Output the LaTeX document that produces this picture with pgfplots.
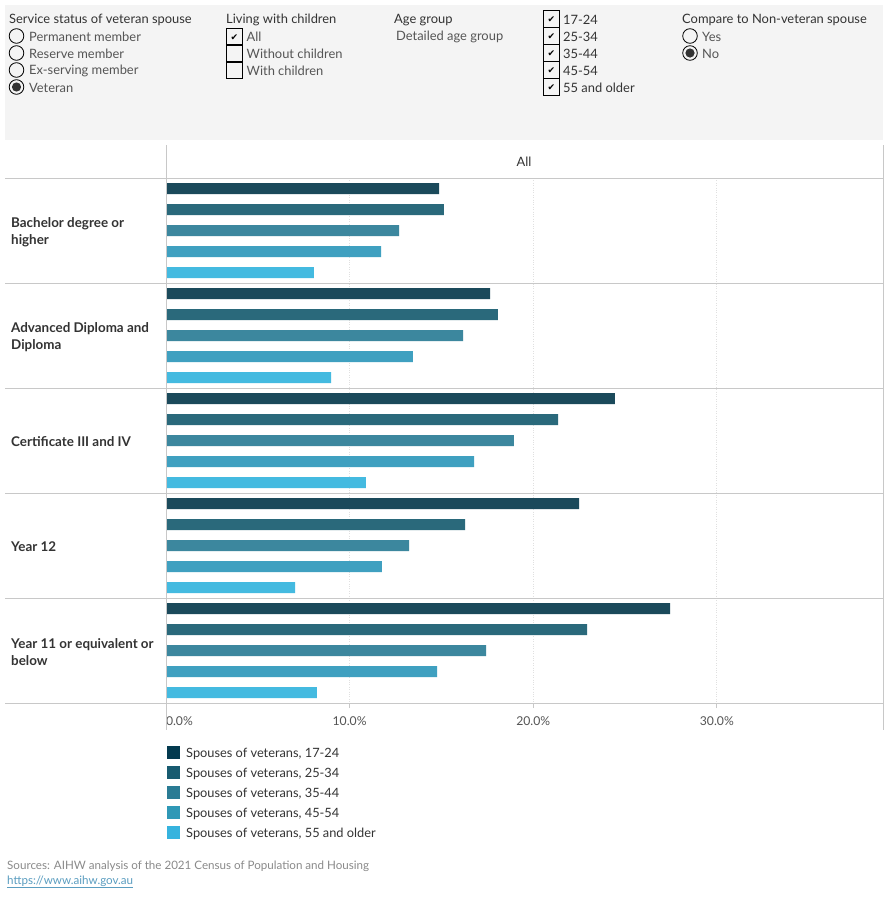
\documentclass[border=0pt]{standalone}
\usepackage{pgfplots}
\pgfplotsset{compat=1.18}
\usepackage{fontspec}
\setmainfont{Lato}
\newfontfamily\dejavu{DejaVu Sans}
\definecolor{c1}{HTML}{1B4A5B}
\definecolor{c2}{HTML}{2A697B}
\definecolor{c3}{HTML}{3C879E}
\definecolor{c4}{HTML}{3FA0C0}
\definecolor{c5}{HTML}{44BAE0}
\definecolor{l1}{HTML}{033A4F}
\definecolor{l2}{HTML}{185B70}
\definecolor{l3}{HTML}{2A7B94}
\definecolor{l4}{HTML}{2F98B6}
\definecolor{l5}{HTML}{36B3DE}
\definecolor{panel}{HTML}{F4F4F4}
\definecolor{tt}{HTML}{333333}
\definecolor{opt}{HTML}{555555}
\definecolor{sep}{HTML}{C8C8C8}
\definecolor{src}{HTML}{8A8A8A}
\definecolor{url}{HTML}{5A9DC0}
\newcommand{\fs}{\fontsize{12.9}{15}\selectfont}
\newcommand{\fst}{\fontsize{12.2}{14}\selectfont}
\begin{document}
\begin{tikzpicture}[x=1pt,y=1pt]
\useasboundingbox (0,0) rectangle (890,-900);
\fill[white] (0,0) rectangle (890,-900);
% filter panel
\fill[panel] (5,-5) rectangle (883,-140);
\begin{scope}[every node/.style={anchor=west, inner sep=0pt, font=\fs, yshift=-1pt}]
\node[text=tt] at (9,-19) {Service status of veteran spouse};
\foreach \y/\t in {36/Permanent member,53/Reserve member,70/Ex-serving member,87/Veteran}{
  \draw[black, line width=0.8pt] (16.5,-\y) circle (7.3);
  \node[text=opt] at (29,-\y) {\t};
}
\fill[tt] (16.5,-87) circle (4.6);
\node[text=tt] at (226,-19) {Living with children};
\foreach \y/\t in {36/All,53/Without children,70/With children}{
  \draw[black, line width=0.8pt] (226.5,-\y+8) rectangle (242.5,-\y-8);
  \node[text=opt] at (246.5,-\y) {\t};
}
\node[anchor=center, font=\dejavu\fontsize{9}{9}\selectfont, yshift=0pt] at (234.5,-36.5) {✔};
\node[text=tt] at (394,-19) {Age group};
\node[text=opt] at (396,-36) {Detailed age group};
\foreach \y/\t in {18.5/17-24,35.5/25-34,52.5/35-44,69.5/45-54,86.5/55 and older}{
  \draw[black, line width=0.8pt] (543.5,-\y+8.5) rectangle (559.5,-\y-8.5);
  \node[anchor=center, font=\dejavu\fontsize{9}{9}\selectfont, yshift=0pt] at (551.5,-\y-0.5) {✔};
  \node[text=tt] at (563,-\y) {\t};
}
\node[text=tt] at (682,-19) {Compare to Non-veteran spouse};
\foreach \y/\t in {36/Yes,53/No}{
  \draw[black, line width=0.8pt] (690,-\y) circle (7.3);
  \node[text=opt] at (702,-\y) {\t};
}
\fill[tt] (690,-53) circle (4.6);
\end{scope}

\begin{axis}[
  at={(166pt,-703pt)}, anchor=south west,
  scale only axis, width=717pt, height=525pt,
  xmin=0, xmax=39.05, ymin=0, ymax=5, y dir=reverse,
  xbar, bar shift=0pt, bar width=0.105,
  axis line style={draw=none},
  ytick=\empty,
  xtick={0,10,20,30},
  xticklabels={{\makebox[0pt][l]{0.0\%}},{10.0\%},{20.0\%},{30.0\%}},
  xtick pos=bottom, tick align=outside,
  major tick length=5pt,
  x tick style={sep, line width=0.8pt},
  xticklabel style={font=\fst, text=opt, inner sep=0pt, yshift=-8pt},
  xmajorgrids, grid style={dotted, line width=0.7pt, color=black!12},
  clip=false,
]
\addplot[fill=c1, draw=none] coordinates {(14.87,0.1) (17.65,1.1) (24.45,2.1) (22.50,3.1) (27.45,4.1)};
\addplot[fill=c2, draw=none] coordinates {(15.14,0.3) (18.08,1.3) (21.35,2.3) (16.29,3.3) (22.93,4.3)};
\addplot[fill=c3, draw=none] coordinates {(12.69,0.5) (16.18,1.5) (18.95,2.5) (13.24,3.5) (17.43,4.5)};
\addplot[fill=c4, draw=none] coordinates {(11.71,0.7) (13.45,1.7) (16.78,2.7) (11.76,3.7) (14.76,4.7)};
\addplot[fill=c5, draw=none] coordinates {(8.06,0.9) (8.99,1.9) (10.89,2.9) (7.03,3.9) (8.22,4.9)};
\end{axis}

% frame lines
\draw[sep, line width=0.9pt] (166,-145) -- (166,-730);
\draw[sep, line width=0.9pt] (883,-145) -- (883,-730);
\foreach \y in {178,283,388,493,598,703}{
  \draw[sep, line width=0.9pt] (5,-\y) -- (883,-\y);
}
\node[font=\fs, text=tt, yshift=-1pt] at (524,-161) {All};
% row labels
\begin{scope}[every node/.style={anchor=west, inner sep=0pt, align=left, text=tt, yshift=-1.5pt, font=\bfseries\fontsize{13.4}{17}\selectfont}]
\node at (11,-230.5) {Bachelor degree or\\higher};
\node at (11,-335.5) {Advanced Diploma and\\Diploma};
\node at (11,-440.5) {Certificate III and IV};
\node at (11,-545.5) {Year 12};
\node at (11,-650.5) {Year 11 or equivalent or\\below};
\end{scope}
% legend
\begin{scope}[every node/.style={anchor=west, inner sep=0pt, text=tt, yshift=-1.5pt, font=\fontsize{12.8}{15}\selectfont}]
\foreach \y/\c/\t in {752/l1/17-24,772/l2/25-34,792/l3/35-44,812/l4/45-54,832/l5/55 and older}{
  \fill[\c] (167,-\y+6.5) rectangle (180,-\y-6.5);
  \node at (186,-\y) {Spouses of veterans, \t};
}
\end{scope}
\node[anchor=west, inner sep=0pt, text=src, yshift=-1.5pt, font=\fontsize{11.6}{13}\selectfont] at (7,-865) {Sources: AIHW analysis of the 2021 Census of Population and Housing};
\node[anchor=west, inner sep=0pt, text=url, yshift=-1.5pt, font=\fontsize{11.6}{13}\selectfont] (u) at (7,-880) {https://www.aihw.gov.au};
\draw[url, line width=0.6pt] (u.south west) ++(0,-0.5) -- ([yshift=-0.5pt]u.south east);
\end{tikzpicture}
\end{document}
